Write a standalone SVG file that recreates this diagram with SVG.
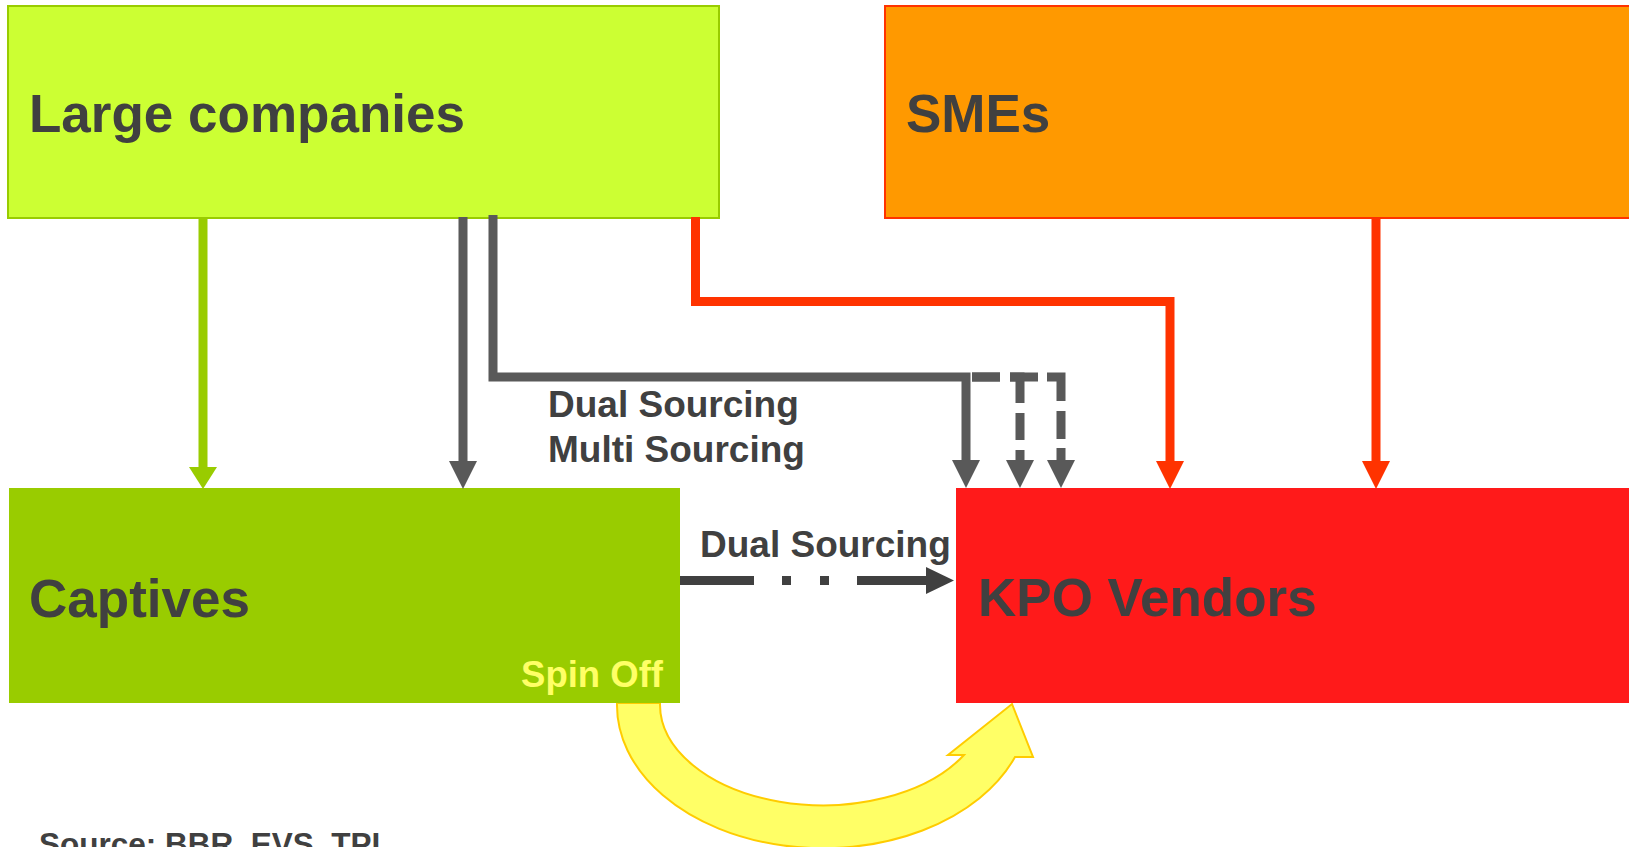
<svg xmlns="http://www.w3.org/2000/svg" width="1629" height="847" viewBox="0 0 1629 847">
  <style>
    .label { font-family: "Liberation Sans", Arial, sans-serif; font-weight: bold; fill: #404040; }
    .big { font-size: 53px; }
    .mid { font-size: 37px; }
    .conn { fill: none; stroke-width: 9; }
    .grey { stroke: #595959; }
    .green { stroke: #99CC00; }
    .red { stroke: #FF3300; }
    .dark { stroke: #404040; }
  </style>
  <defs>
    <marker id="ah-grey" markerUnits="userSpaceOnUse" markerWidth="28" markerHeight="28" viewBox="0 0 28 28" refX="0" refY="14" orient="auto">
      <path d="M0 0 L28 14 L0 28 Z" fill="#595959"/>
    </marker>
    <marker id="ah-green" markerUnits="userSpaceOnUse" markerWidth="22" markerHeight="28" viewBox="0 0 22 28" refX="0" refY="14" orient="auto">
      <path d="M0 0 L22 14 L0 28 Z" fill="#99CC00"/>
    </marker>
    <marker id="ah-red" markerUnits="userSpaceOnUse" markerWidth="28" markerHeight="28" viewBox="0 0 28 28" refX="0" refY="14" orient="auto">
      <path d="M0 0 L28 14 L0 28 Z" fill="#FF3300"/>
    </marker>
    <marker id="ah-dark" markerUnits="userSpaceOnUse" markerWidth="28" markerHeight="27" viewBox="0 0 28 27" refX="0" refY="13.5" orient="auto">
      <path d="M0 0 L28 13.5 L0 27 Z" fill="#404040"/>
    </marker>
  </defs>

  <rect width="1629" height="847" fill="#FFFFFF"/>

  <!-- spin-off arrow, drawn beneath the boxes -->
  <g id="spin-off-arrow">
    <path d="M617 703 A206 143 0 0 0 1015 757 L1033 757 L1012 704 L948 755 L964 755 A163 101 0 0 1 660 703 Z" fill="#FFFF66" stroke="#FFCC00" stroke-width="2" stroke-linejoin="miter"/>
  </g>

  <g id="large-companies">
    <rect x="8" y="6" width="711" height="212" fill="#CCFF33" stroke="#99CC00" stroke-width="2"/>
    <text class="label big" x="29" y="132">Large companies</text>
  </g>

  <g id="smes">
    <rect x="885" y="6" width="760" height="212" fill="#FF9900" stroke="#FF3300" stroke-width="2"/>
    <text class="label big" x="906" y="132">SMEs</text>
  </g>

  <g id="captives">
    <rect x="9" y="488" width="671" height="215" fill="#99CC00"/>
    <text class="label big" x="29" y="617">Captives</text>
    <text class="label" x="663" y="687" text-anchor="end" font-size="36.5" style="fill:#FFFF66">Spin Off</text>
  </g>

  <g id="kpo-vendors">
    <rect x="956" y="488" width="690" height="215" fill="#FF1A1A"/>
    <text class="label big" x="978" y="616">KPO Vendors</text>
  </g>

  <g id="connectors">
    <!-- Large companies -> Captives -->
    <path class="conn green" d="M203 218 V467" marker-end="url(#ah-green)"/>
    <path class="conn grey" d="M463 217 V461" marker-end="url(#ah-grey)"/>
    <!-- Large companies -> KPO Vendors (single, dual, multi sourcing) -->
    <path class="conn grey" d="M493 215 V377 H966 V460" stroke-linejoin="miter" marker-end="url(#ah-grey)"/>
    <path class="conn grey" d="M972 377 H1020 V460" stroke-dasharray="28 10 36 10 27 10 40" marker-end="url(#ah-grey)"/>
    <path class="conn grey" d="M972 377 H1061 V460" stroke-dasharray="28 10 28 9 38 10 28 9 40" marker-end="url(#ah-grey)"/>
    <path class="conn red" d="M695.5 217 V301.5 H1170 V461" marker-end="url(#ah-red)"/>
    <!-- SMEs -> KPO Vendors -->
    <path class="conn red" d="M1376 217 V461" marker-end="url(#ah-red)"/>
    <!-- Captives -> KPO Vendors -->
    <path class="conn dark" d="M680 580.5 H926" stroke-dasharray="74 28 9 29 9 28 120" marker-end="url(#ah-dark)"/>
  </g>

  <g id="edge-labels">
    <text class="label mid" x="548" y="417">Dual Sourcing</text>
    <text class="label mid" x="548" y="462">Multi Sourcing</text>
    <text class="label" x="700" y="557" font-size="37">Dual Sourcing</text>
  </g>

  <text class="label" x="39" y="855" font-size="31.5">Source: BBR, EVS, TPI</text>
</svg>
